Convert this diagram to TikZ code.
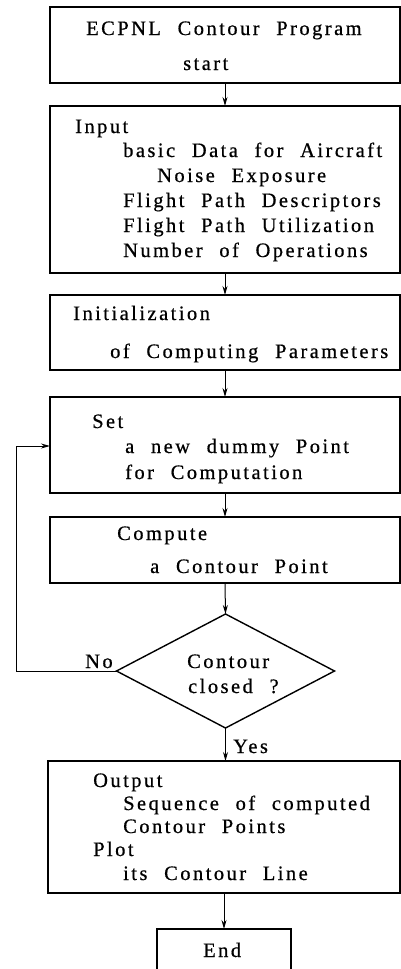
\documentclass[tikz,border=0pt]{standalone}
\usepackage{fontspec}
\setmainfont[LetterSpace=12,WordSpace=2.2,FakeBold=0.6]{Liberation Serif}
\usetikzlibrary{shapes.geometric,arrows.meta}
\begin{document}
\begin{tikzpicture}[x=1pt,y=-1pt,
  box/.style={draw, line width=1.2pt, inner sep=0pt, outer sep=0pt},
  dia/.style={draw, diamond, line width=1.4pt, inner sep=0pt, outer sep=0pt, minimum width=218pt, minimum height=114pt},
  txt/.style={anchor=base west, inner sep=0pt, font=\fontsize{20.5}{25}\selectfont},
  arr/.style={line width=1pt, -{Stealth[length=9pt,width=5pt]}}]
\useasboundingbox (0,0) rectangle (401,969);
% boxes
\node[box, minimum width=350pt, minimum height=76pt] (b1) at (225,45) {};
\node[box, minimum width=350pt, minimum height=167pt] (b2) at (225,189.5) {};
\node[box, minimum width=350pt, minimum height=75pt] (b3) at (225,332.5) {};
\node[box, minimum width=350pt, minimum height=96pt] (b4) at (225,445) {};
\node[box, minimum width=350pt, minimum height=66pt] (b5) at (225,550) {};
\node[dia] (d) at (225.5,671) {};
\node[box, minimum width=352pt, minimum height=132pt] (b6) at (224,827) {};
\node[box, minimum width=134pt, minimum height=60pt] (e) at (224,959) {};
\coordinate (lc) at (16,671);
\coordinate (lt) at (16,446);
% texts
\node[txt] (t1a) at (86,35) {ECPNL Contour Program};
\node[txt] (t1b) at (183,70) {start};
\node[txt] (t2a) at (75,133) {Input};
\node[txt] (t2b) at (123,157) {basic Data for Aircraft};
\node[txt] (t2c) at (157,182) {Noise Exposure};
\node[txt] (t2d) at (123,207) {Flight Path Descriptors};
\node[txt] (t2e) at (123,232) {Flight Path Utilization};
\node[txt] (t2f) at (123,257) {Number of Operations};
\node[txt] (t3a) at (73,320) {Initialization};
\node[txt] (t3b) at (110,358) {of Computing Parameters};
\node[txt] (t4a) at (92,428) {Set};
\node[txt] (t4b) at (125,453) {a new dummy Point};
\node[txt] (t4c) at (125,479) {for Computation};
\node[txt] (t5a) at (117,540) {Compute};
\node[txt] (t5b) at (150,573) {a Contour Point};
\node[txt] (tda) at (187,668) {Contour};
\node[txt] (tdb) at (188,693) {closed ?};
\node[txt] (tno) at (85,668) {No};
\node[txt] (tyes) at (233,753) {Yes};
\node[txt] (t6a) at (93,787) {Output};
\node[txt] (t6b) at (123,810) {Sequence of computed};
\node[txt] (t6c) at (123,833) {Contour Points};
\node[txt] (t6d) at (93,856) {Plot};
\node[txt] (t6e) at (123,880) {its Contour Line};
\node[txt] (te) at (203,957) {End};
% connectors
\draw[arr] (b1.south) -- (b2.north);
\draw[arr] (b2.south) -- (b3.north);
\draw[arr] (b3.south) -- (b4.north);
\draw[arr] (b4.south) -- (b5.north);
\draw[arr] (b5.south) -- (d.north);
\draw[arr] (d.south) -- (d.south |- b6.north);
\draw[arr] (b6.south) -- (e.north);
\draw[line width=1pt] (d.west) -- (lc) -- (lt);
\draw[arr] (lt) -- (lt -| b4.west);
\end{tikzpicture}
\end{document}
